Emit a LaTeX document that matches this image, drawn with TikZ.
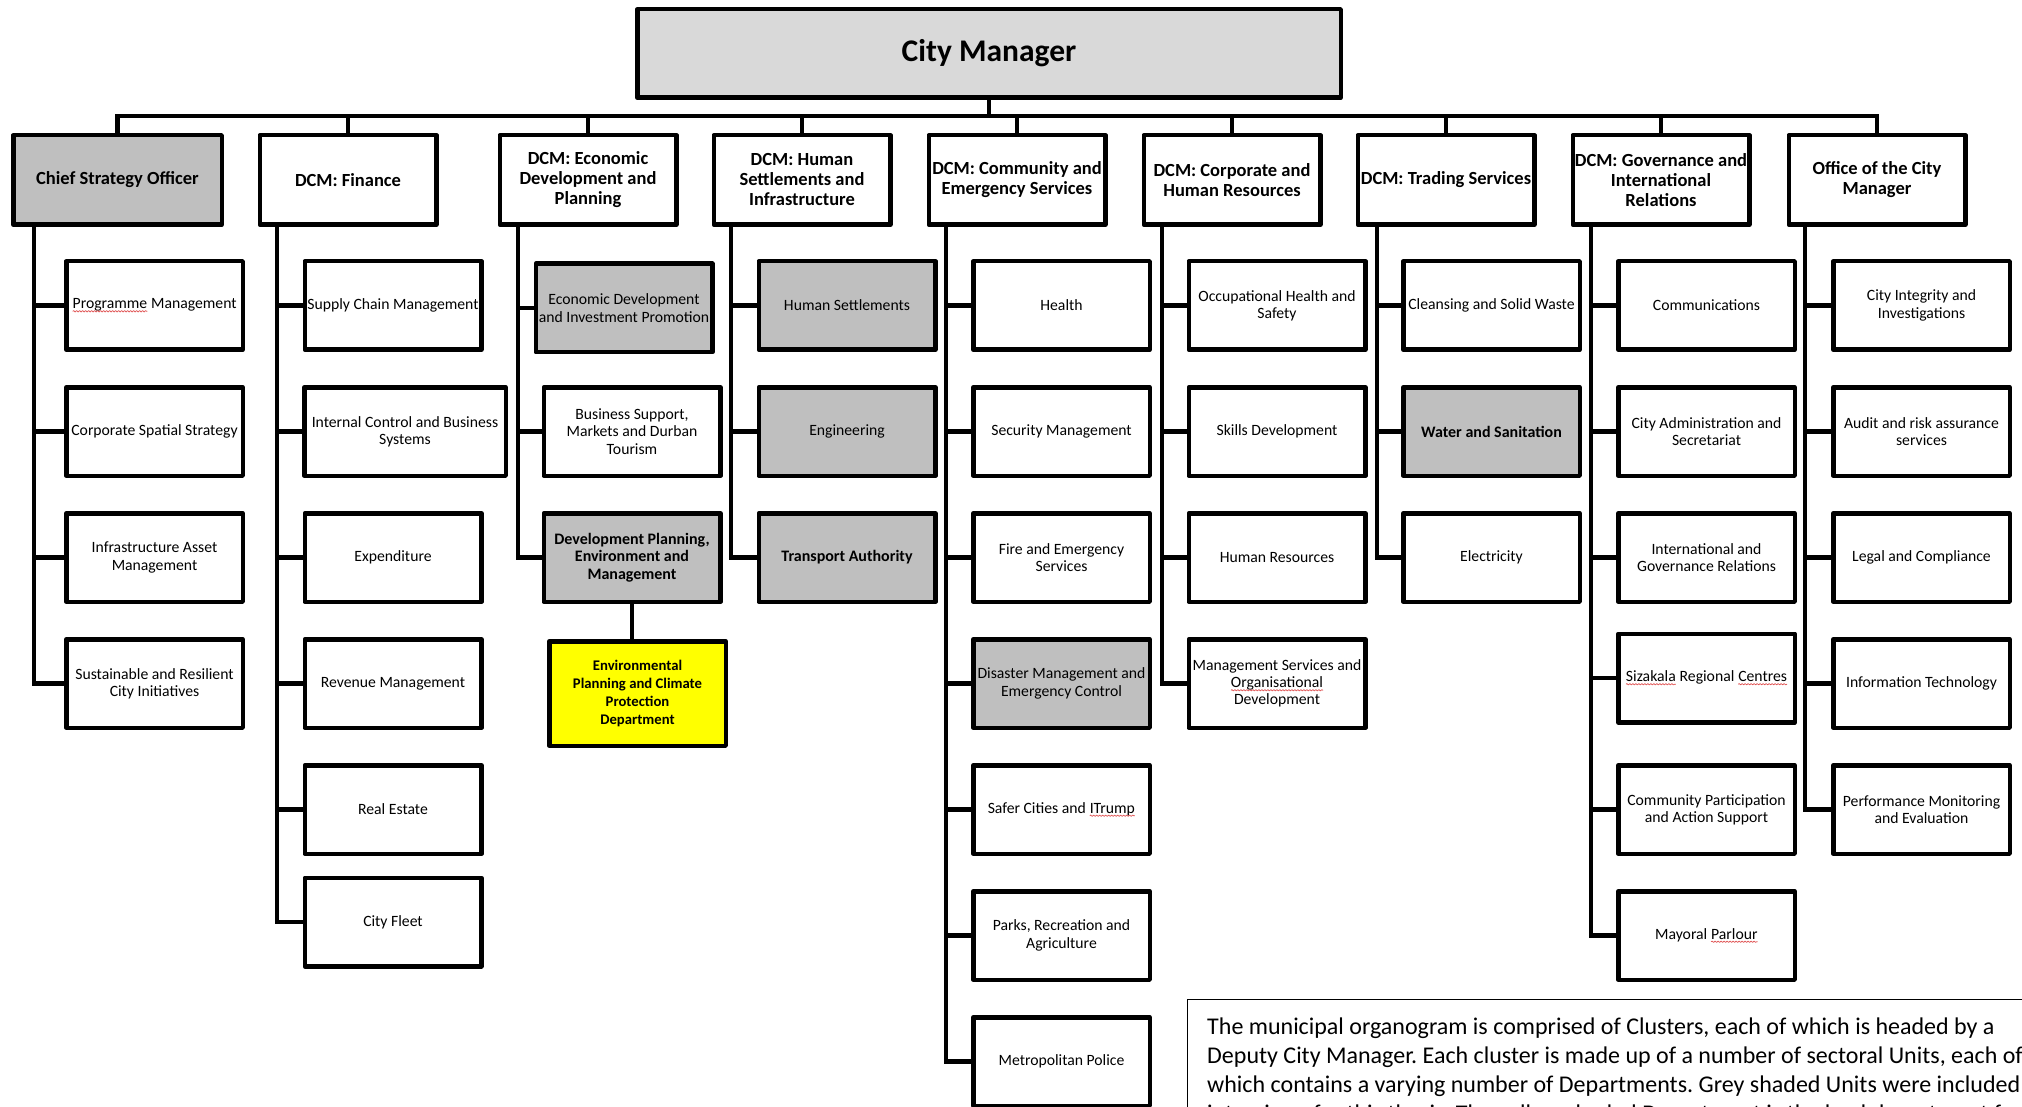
\documentclass[tikz,border=0pt]{standalone}
\usepackage{fontspec}
\setmainfont{Carlito}
\usetikzlibrary{decorations.pathmorphing}
\definecolor{unitgrey}{HTML}{BFBFBF}
\definecolor{topgrey}{HTML}{D9D9D9}
\definecolor{leadyellow}{HTML}{FFFF00}
\definecolor{spellred}{HTML}{E05050}
% word flagged by the spell checker: wavy red underline
\newcommand\flagged[1]{\tikz[baseline=(fw.base)]{%
  \node[inner sep=0pt, outer sep=0pt, draw=none, fill=none,
    minimum width=0pt, minimum height=0pt, line width=0.4pt] (fw) {#1};
  \draw[spellred, line width=0.7pt, decorate,
    decoration={snake, amplitude=0.7pt, segment length=3pt}]
    ([yshift=-2.6pt]fw.base west) -- ([yshift=-2.6pt]fw.base east);}}
\frenchspacing
\begin{document}
\begin{tikzpicture}[x=1pt,y=-1pt,
  box/.style={draw=black, line width=4.5pt, line join=round, fill=white,
    align=center, inner sep=1pt, outer sep=0pt, text=black},
  unit/.style={box, minimum width=176.5pt, minimum height=88.5pt,
    font=\fontsize{15.7}{17.3}\selectfont},
  shaded/.style={fill=unitgrey},
  strong/.style={font=\bfseries\fontsize{16}{17.5}\selectfont},
  head/.style={box, minimum width=176.5pt, minimum height=89.5pt,
    font=\bfseries\fontsize{18.5}{20}\selectfont},
  link/.style={line width=4.8pt},
  noteline/.style={anchor=base west, inner sep=0pt,
    font=\fontsize{24}{28}\selectfont}
]
\fill[white] (0,0) rectangle (2022,1107);
\useasboundingbox (0,0) rectangle (2022,1107);
\clip (0,0) rectangle (2022,1107);

% ---- head of the organisation
\node[box, fill=topgrey, minimum width=703.5pt, minimum height=88.5pt,
  font=\bfseries\fontsize{31.5}{34}\selectfont] (cm) at (989,53.5) {City Manager};

% ---- clusters
\node[head, shaded, minimum width=208.5pt] (cso) at (117.5,180) {Chief Strategy Officer};
\node[head] (fin)  at (348,180)  {DCM: Finance};
\node[head] (econ) at (588,180)  {DCM: Economic\\Development and\\Planning};
\node[head] (hs)   at (802,180)  {DCM: Human\\Settlements and\\Infrastructure};
\node[head] (ces)  at (1017,180) {DCM: Community and\\Emergency Services};
\node[head] (chr)  at (1232,180) {DCM: Corporate and\\Human Resources};
\node[head] (trd)  at (1446,180) {DCM: Trading Services};
\node[head] (gov)  at (1661,180) {DCM: Governance and\\International\\Relations};
\node[head] (ocm)  at (1877,180) {Office of the City\\Manager};

% ---- units: Chief Strategy Officer
\node[unit] (a1) at (154.5,305.5) {\flagged{Programme} Management};
\node[unit] (a2) at (154.5,431.5) {Corporate Spatial Strategy};
\node[unit] (a3) at (154.5,557.5) {Infrastructure Asset\\Management};
\node[unit] (a4) at (154.5,683.5) {Sustainable and Resilient\\City Initiatives};

% ---- units: Finance
\node[unit] (b1) at (393,305.5) {Supply Chain Management};
\node[unit, minimum width=201.5pt] (b2) at (405,431.5) {Internal Control and Business\\Systems};
\node[unit] (b3) at (393,557.5) {Expenditure};
\node[unit] (b4) at (393,683.5) {Revenue Management};
\node[unit] (b5) at (393,809.5) {Real Estate};
\node[unit] (b6) at (393,922)   {City Fleet};

% ---- units: Economic Development and Planning
\node[unit, shaded] (e1) at (624,308) {Economic Development\\and Investment Promotion};
\node[unit] (e2) at (632,431.5) {Business Support,\\Markets and Durban\\Tourism};
\node[unit, shaded, strong] (e3) at (632,557.5) {Development Planning,\\Environment and\\Management};
\node[unit, fill=leadyellow, minimum height=104.5pt,
  font=\bfseries\fontsize{14.7}{18.2}\selectfont] (e4) at (637.5,693.5)
  {Environmental\\Planning and Climate\\Protection\\Department};

% ---- units: Human Settlements and Infrastructure
\node[unit, shaded] (h1) at (847,305.5) {Human Settlements};
\node[unit, shaded] (h2) at (847,431.5) {Engineering};
\node[unit, shaded, strong] (h3) at (847,557.5) {Transport Authority};

% ---- units: Community and Emergency Services
\node[unit] (s1u) at (1061.5,305.5) {Health};
\node[unit] (s2u) at (1061.5,431.5) {Security Management};
\node[unit] (s3u) at (1061.5,557.5) {Fire and Emergency\\Services};
\node[unit, shaded] (s4u) at (1061.5,683.5) {Disaster Management and\\Emergency Control};
\node[unit] (s5u) at (1061.5,809.5) {Safer Cities and \flagged{ITrump}};
\node[unit] (s6u) at (1061.5,935.5) {Parks, Recreation and\\Agriculture};
\node[unit] (s7u) at (1061.5,1061.5) {Metropolitan Police};

% ---- units: Corporate and Human Resources
\node[unit] (r1) at (1277,305.5) {Occupational Health and\\Safety};
\node[unit] (r2) at (1277,431.5) {Skills Development};
\node[unit] (r3) at (1277,557.5) {Human Resources};
\node[unit] (r4) at (1277,683.5) {Management Services and\\\flagged{Organisational}\\Development};

% ---- units: Trading Services
\node[unit] (t1u) at (1491.5,305.5) {Cleansing and Solid Waste};
\node[unit, shaded, strong] (t2u) at (1491.5,431.5) {Water and Sanitation};
\node[unit] (t3u) at (1491.5,557.5) {Electricity};

% ---- units: Governance and International Relations
\node[unit] (g1) at (1706.5,305.5) {Communications};
\node[unit] (g2) at (1706.5,431.5) {City Administration and\\Secretariat};
\node[unit] (g3) at (1706.5,557.5) {International and\\Governance Relations};
\node[unit] (g4) at (1706.5,678)   {\flagged{Sizakala} Regional \flagged{Centres}};
\node[unit] (g5) at (1706.5,809.5) {Community Participation\\and Action Support};
\node[unit] (g6) at (1706.5,935.5) {Mayoral \flagged{Parlour}};

% ---- units: Office of the City Manager
\node[unit] (o1) at (1921.5,305.5) {City Integrity and\\Investigations};
\node[unit] (o2) at (1921.5,431.5) {Audit and risk assurance\\services};
\node[unit] (o3) at (1921.5,557.5) {Legal and Compliance};
\node[unit] (o4) at (1921.5,683.5) {Information Technology};
\node[unit] (o5) at (1921.5,809.5) {Performance Monitoring\\and Evaluation};

% ---- reporting lines: City Manager to clusters
\coordinate (bus) at (0,116);
\draw[link] (cm.south) -- (cm.south |- bus);
\draw[link] (cso.north) -- (cso.north |- bus) -| (ocm.north);
\foreach \n in {fin,econ,hs,ces,chr,trd,gov}
  \draw[link] (\n.north) -- (\n.north |- bus);

% ---- reporting lines: clusters to units (spine x positions)
\coordinate (x1) at (34,0);
\coordinate (x2) at (277,0);
\coordinate (x3) at (518,0);
\coordinate (x4) at (731,0);
\coordinate (x5) at (946,0);
\coordinate (x6) at (1162,0);
\coordinate (x7) at (1377,0);
\coordinate (x8) at (1591,0);
\coordinate (x9) at (1805,0);

\draw[link] (cso.south -| x1) |- (a4.west);
\draw[link] (fin.south -| x2) |- (b6.west);
\draw[link] (econ.south -| x3) |- (e3.west);
\draw[link] (hs.south -| x4) |- (h3.west);
\draw[link] (ces.south -| x5) |- (s7u.west);
\draw[link] (chr.south -| x6) |- (r4.west);
\draw[link] (trd.south -| x7) |- (t3u.west);
\draw[link] (gov.south -| x8) |- (g6.west);
\draw[link] (ocm.south -| x9) |- (o5.west);

\foreach \u/\s in {a1/x1,a2/x1,a3/x1,
                   b1/x2,b2/x2,b3/x2,b4/x2,b5/x2,
                   e1/x3,e2/x3,
                   h1/x4,h2/x4,
                   s1u/x5,s2u/x5,s3u/x5,s4u/x5,s5u/x5,s6u/x5,
                   r1/x6,r2/x6,r3/x6,
                   t1u/x7,t2u/x7,
                   g1/x8,g2/x8,g3/x8,g4/x8,g5/x8,
                   o1/x9,o2/x9,o3/x9,o4/x9}
  \draw[link] (\u.west -| \s) -- (\u.west);

\draw[link] (e3.south) -- (e3.south |- e4.north);

% ---- explanatory note
\node[draw=black, line width=1.4pt, anchor=north west, inner sep=0pt,
  minimum width=900pt, minimum height=200pt] (note) at (1187,999) {};
\node[noteline] (n1) at (1207,1034) {The municipal organogram is comprised of Clusters, each of which is headed by a};
\node[noteline] (n2) at (1207,1063) {Deputy City Manager. Each cluster is made up of a number of sectoral Units, each of};
\node[noteline] (n3) at (1207,1092) {which contains a varying number of Departments. Grey shaded Units were included in};
\node[noteline] (n4) at (1207,1121) {interviews for this thesis. The yellow shaded Department is the lead department for};
\end{tikzpicture}
\end{document}
